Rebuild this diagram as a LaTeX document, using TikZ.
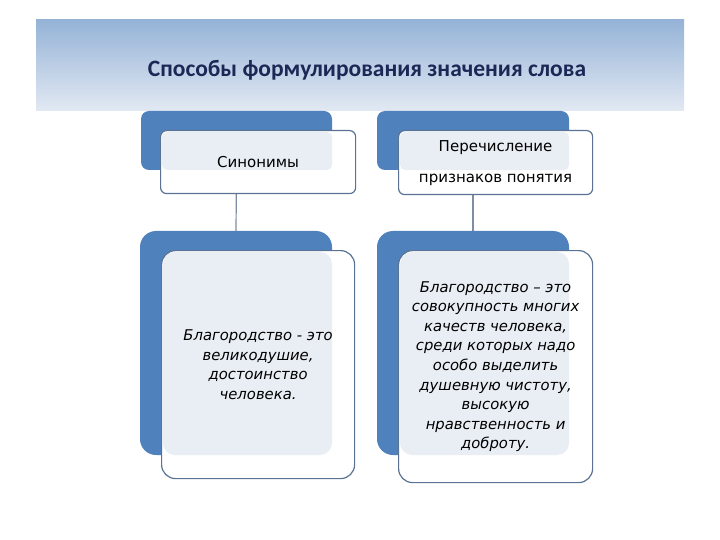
\documentclass[tikz,border=0pt]{standalone}
\usepackage{fontspec}
\setmainfont{DejaVu Sans}
\newfontfamily\titlefont{Carlito}
\definecolor{headtop}{HTML}{95B3D7}
\definecolor{headbot}{HTML}{E2E9F3}
\definecolor{titleblue}{HTML}{1B2856}
\definecolor{backblue}{HTML}{4F81BD}
\definecolor{frontline}{HTML}{5A7394}
\definecolor{frontfill}{HTML}{E9EEF5}
\definecolor{linkgray}{HTML}{7D8DA3}
\tikzset{
  backbox/.style={fill=backblue, anchor=north west, inner sep=0pt, outer sep=0pt},
  frontbox/.style={fill=white, draw=frontline, line width=1.2pt, anchor=north west, inner sep=0pt},
  inlay/.style={fill=frontfill},
  link/.style={draw=linkgray, line width=1.2pt},
  toptext/.style={align=center, font=\fontsize{15}{31}\selectfont},
  deftext/.style={align=center, font=\fontsize{14.8}{19.6}\itshape\selectfont}
}
\begin{document}
\begin{tikzpicture}[x=1pt,y=-1pt]
  \useasboundingbox[fill=white] (0,0) rectangle (720,540);
  % header band
  \fill[top color=headtop, bottom color=headbot] (36,20) rectangle (684,111);
  \node[font=\titlefont\bfseries\fontsize{23.5}{26}\selectfont, text=titleblue] (title) at (367,70) {Способы формулирования значения слова};
  % blue back boxes
  \node[backbox, rounded corners=8pt, minimum width=191pt, minimum height=59pt] (synback) at (141,111) {};
  \node[backbox, rounded corners=8pt, minimum width=192pt, minimum height=59pt] (listback) at (377,111) {};
  \node[backbox, rounded corners=16pt, minimum width=192pt, minimum height=224pt] (syndefback) at (140,231) {};
  \node[backbox, rounded corners=16pt, minimum width=192pt, minimum height=224pt] (listdefback) at (377,231) {};
  % links
  \draw[link] (synback.south) -- (syndefback.north);
  \draw[link] (listback.south) -- (listdefback.north);
  % front boxes
  \node[frontbox, rounded corners=6pt, minimum width=195pt, minimum height=63pt] (syn) at (160,130) {};
  \node[frontbox, rounded corners=6pt, minimum width=194pt, minimum height=64pt] (list) at (398,130) {};
  \node[frontbox, rounded corners=14pt, minimum width=193pt, minimum height=228pt] (syndef) at (161,250) {};
  \node[frontbox, rounded corners=14pt, minimum width=194pt, minimum height=232pt] (listdef) at (398,250) {};
  \fill[inlay, rounded corners=5pt] ([shift={(2,2)}]syn.north west) rectangle (synback.south east);
  \fill[inlay, rounded corners=5pt] ([shift={(2,2)}]list.north west) rectangle (listback.south east);
  \fill[inlay, rounded corners=12pt] ([shift={(2,2)}]syndef.north west) rectangle (syndefback.south east);
  \fill[inlay, rounded corners=12pt] ([shift={(2,2)}]listdef.north west) rectangle (listdefback.south east);
  % texts
  \node[toptext] (syntext) at (syn.center) {Синонимы};
  \node[toptext] (listtext) at (list.center) {Перечисление\\признаков понятия};
  \node[deftext] (syndeftext) at (syndef.center) {Благородство - это\\великодушие,\\достоинство\\человека.};
  \node[deftext] (listdeftext) at (listdef.center) {Благородство – это\\совокупность многих\\качеств человека,\\среди которых надо\\особо выделить\\душевную чистоту,\\высокую\\нравственность и\\доброту.};
\end{tikzpicture}
\end{document}
